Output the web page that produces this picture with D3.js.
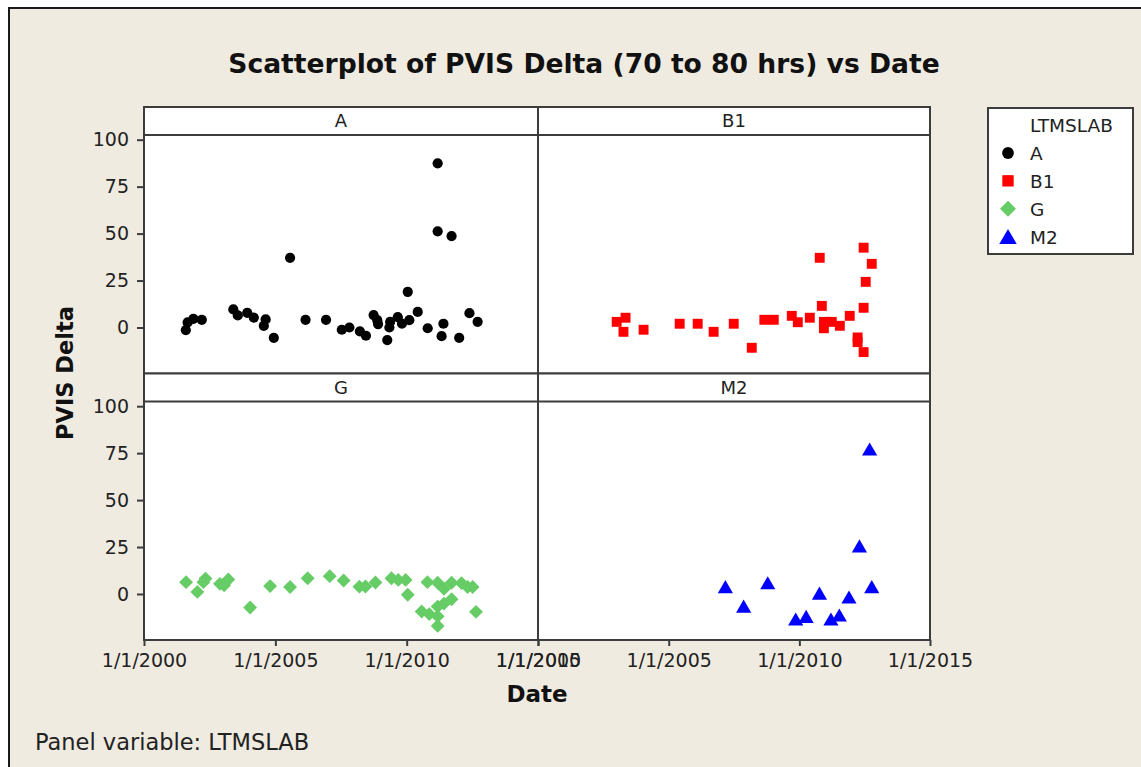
<!DOCTYPE html>
<html><head><meta charset="utf-8">
<script src="https://cdn.jsdelivr.net/npm/d3@7"></script>
<style>html,body{margin:0;padding:0;background:#fff;} svg{display:block;}</style>
</head><body>
<svg id="chart" width="1141" height="767"></svg>
<script>
// ---------------- DATA ----------------
const titleText = "Scatterplot of PVIS Delta (70 to 80 hrs) vs Date";
const panelNames = ["A", "B1", "G", "M2"];
const legendTitle = "LTMSLAB";
const xTickYears = [2000, 2005, 2010, 2015];
const yTickValues = [0, 25, 50, 75, 100];

// dates as decimal years, values = PVIS Delta
const aDates  = [2001.59,2001.66,2001.88,2002.20,2003.40,2003.57,2003.93,2004.18,2004.63,2004.56,2004.94,2005.56,2006.15,2006.93,2007.53,2007.82,2008.22,2008.45,2008.74,2008.88,2008.91,2009.26,2009.34,2009.37,2009.66,2009.82,2010.10,2010.04,2010.42,2010.80,2011.18,2011.18,2011.71,2011.40,2011.33,2012.00,2012.39,2012.70];
const aValues = [-1.4,2.7,4.6,4.1,9.6,6.4,7.8,5.3,4.3,0.9,-5.5,37.1,4.1,4.1,-1.2,0,-2.1,-4.4,6.6,3.9,1.8,-6.7,0,3.0,5.5,2.1,3.9,19.0,8.3,-0.4,87.4,51.2,48.7,2.0,-4.6,-5.5,7.6,3.0];

const b1Dates  = [2003.01,2003.35,2003.27,2004.04,2005.42,2006.11,2006.72,2007.49,2008.18,2008.66,2009.02,2009.71,2009.94,2010.40,2010.78,2010.86,2010.94,2010.94,2011.24,2011.55,2011.93,2012.23,2012.23,2012.46,2012.46,2012.54,2012.46,2012.77];
const b1Values = [3.0,5.2,-2.3,-1.2,2.0,2.0,-2.3,2.0,-10.8,4.1,4.1,6.2,2.8,5.2,37.1,11.5,3.0,-0.4,3.0,0.9,6.2,-5.3,-7.8,-13.1,10.5,24.3,42.5,33.9];

const gDates  = [2001.60,2002.03,2002.34,2002.26,2002.89,2003.05,2003.21,2004.04,2004.80,2005.56,2006.23,2007.07,2007.60,2008.20,2008.43,2008.81,2009.42,2009.68,2009.96,2010.04,2010.57,2010.79,2010.86,2011.18,2011.18,2011.18,2011.18,2011.42,2011.42,2011.71,2011.71,2012.09,2012.32,2012.51,2012.64];
const gValues = [6.3,1.1,8.2,6.3,5.4,4.6,7.7,-7.2,4.2,3.7,8.4,9.5,7.2,3.9,4.0,6.1,8.4,7.5,7.5,-0.4,-9.3,6.3,-10.7,6.0,-6.7,-11.9,-17.0,2.8,-5.1,6.0,-2.8,5.8,3.7,3.7,-9.5];

const m2Dates  = [2012.69,2012.30,2007.17,2008.79,2007.87,2010.77,2011.90,2012.77,2009.86,2010.26,2011.21,2011.53];
const m2Values = [77.2,25.6,3.9,6.0,-6.5,0.5,-1.6,3.9,-13.3,-11.9,-13.3,-11.2];

const seriesColors = ["#000000", "#ff0000", "#66cc66", "#0000ff"];

// ---------------- LAYOUT ----------------
const W = 1141, H = 767;
const FONT = "'DejaVu Sans', Verdana, sans-serif";
const svg = d3.select("#chart");

svg.append("rect").attr("width", W).attr("height", H).attr("fill", "#ffffff");
svg.append("rect").attr("x", 9).attr("y", 8).attr("width", W + 10).attr("height", H + 10)
  .attr("fill", "#f0ebe1").attr("stroke", "#1a1a1a").attr("stroke-width", 2);

const colX = [[144, 538], [538, 930]];
const rowY = [[107, 373.5], [373.5, 640]];
const stripH = 28;
const lineCol = "#3c3c3c";

function toDate(v) {
  const y = Math.floor(v);
  const s = new Date(y, 0, 1), e = new Date(y + 1, 0, 1);
  return new Date(+s + (v - y) * (e - s));
}

const datasets = [
  {dates: aDates, values: aValues},
  {dates: b1Dates, values: b1Values},
  {dates: gDates, values: gValues},
  {dates: m2Dates, values: m2Values}
];

// symbol generators (centered on bbox)
const symCircle = d3.symbol().type(d3.symbolCircle).size(82)();
const symSquare = d3.symbol().type(d3.symbolSquare).size(98)();
const symDiamond = d3.symbol().type(d3.symbolSquare).size(96)();
const triSize = 100;
const symTriangle = d3.symbol().type(d3.symbolTriangle).size(triSize)();
const triOffset = Math.sqrt(triSize / (Math.sqrt(3) * 3)) / 2;

function markerTransform(i, px, py, scale) {
  scale = scale || 1;
  if (i === 2) return `translate(${px},${py}) rotate(45) scale(${scale})`;
  if (i === 3) return `translate(${px},${py + triOffset * scale}) scale(${scale})`;
  return `translate(${px},${py}) scale(${scale})`;
}
const symPaths = [symCircle, symSquare, symDiamond, symTriangle];

const xTickDates = xTickYears.map(y => new Date(y, 0, 1));
const fmt = d3.timeFormat("%-m/%-d/%Y");

panelNames.forEach((name, i) => {
  const col = i % 2, row = Math.floor(i / 2);
  const [x0, x1] = colX[col];
  const [y0, y1] = rowY[row];
  const x = d3.scaleTime().domain([new Date(2000, 0, 1), new Date(2015, 0, 1)]).range([x0, x1]);
  const y = d3.scaleLinear().domain([-24.5, 102.5]).range([y1, y0 + stripH]);

  const g = svg.append("g");
  g.append("rect").attr("x", x0).attr("y", y0).attr("width", x1 - x0).attr("height", y1 - y0)
    .attr("fill", "#ffffff");

  // points
  const ds = datasets[i];
  g.selectAll("path.pt").data(ds.dates.map((d, k) => ({d: toDate(d), v: ds.values[k]})))
    .join("path").attr("class", "pt")
    .attr("d", symPaths[i])
    .attr("transform", p => markerTransform(i, x(p.d), y(p.v)))
    .attr("fill", seriesColors[i]);

  // strip
  g.append("line").attr("x1", x0).attr("x2", x1).attr("y1", y0 + stripH).attr("y2", y0 + stripH)
    .attr("stroke", lineCol).attr("stroke-width", 2);
  g.append("text").attr("x", (x0 + x1) / 2).attr("y", y0 + 20).attr("text-anchor", "middle")
    .attr("font-family", FONT).attr("font-size", 18).attr("fill", "#222").text(name);
  g.append("rect").attr("x", x0).attr("y", y0).attr("width", x1 - x0).attr("height", y1 - y0)
    .attr("fill", "none").attr("stroke", lineCol).attr("stroke-width", 2);

  // axes
  if (col === 0) {
    const ax = g.append("g").attr("transform", `translate(${x0},0)`)
      .call(d3.axisLeft(y).tickValues(yTickValues).tickSize(7).tickPadding(8));
    ax.select(".domain").remove();
    ax.selectAll("line").attr("stroke", lineCol).attr("stroke-width", 2);
    ax.selectAll("text").attr("font-family", FONT).attr("font-size", 19).attr("fill", "#222");
  }
  if (row === 1) {
    const ax = g.append("g").attr("transform", `translate(0,${y1})`)
      .call(d3.axisBottom(x).tickValues(xTickDates).tickFormat(fmt).tickSize(6).tickPadding(8));
    ax.select(".domain").remove();
    ax.selectAll("line").attr("stroke", lineCol).attr("stroke-width", 2);
    ax.selectAll("text").attr("font-family", FONT).attr("font-size", 19).attr("fill", "#222");
  }
});

// title
const t = svg.append("text").attr("x", 584).attr("y", 73).attr("text-anchor", "middle")
  .attr("font-family", FONT).attr("font-weight", "bold").attr("font-size", 28)
  .attr("fill", "#111").text(titleText);
const tl = t.node().getComputedTextLength();
t.attr("font-size", 28 * 712 / tl);

// axis titles
svg.append("text").attr("x", 537).attr("y", 702).attr("text-anchor", "middle")
  .attr("font-family", FONT).attr("font-weight", "bold").attr("font-size", 23)
  .attr("fill", "#111").text("Date");
svg.append("text").attr("transform", "translate(73,373) rotate(-90)").attr("text-anchor", "middle")
  .attr("font-family", FONT).attr("font-weight", "bold").attr("font-size", 22.5)
  .attr("fill", "#111").text("PVIS Delta");

// footer
svg.append("text").attr("x", 35).attr("y", 750)
  .attr("font-family", FONT).attr("font-size", 22.5).attr("fill", "#222")
  .text("Panel variable: " + legendTitle);

// legend
const lg = svg.append("g");
lg.append("rect").attr("x", 988).attr("y", 108).attr("width", 145).attr("height", 146)
  .attr("fill", "#ffffff").attr("stroke", lineCol).attr("stroke-width", 2);
lg.append("text").attr("x", 1030).attr("y", 132).attr("font-family", FONT).attr("font-size", 18.5)
  .attr("fill", "#222").text(legendTitle);
const legRowY = d3.scaleLinear().domain([0, 3]).range([153, 236.5]);
panelNames.forEach((name, i) => {
  const cy = legRowY(i);
  lg.append("path").attr("d", symPaths[i]).attr("transform", markerTransform(i, 1008, cy, 1.15))
    .attr("fill", seriesColors[i]);
  lg.append("text").attr("x", 1030).attr("y", cy + 7).attr("font-family", FONT).attr("font-size", 18.5)
    .attr("fill", "#222").text(name);
});
</script>
</body></html>
